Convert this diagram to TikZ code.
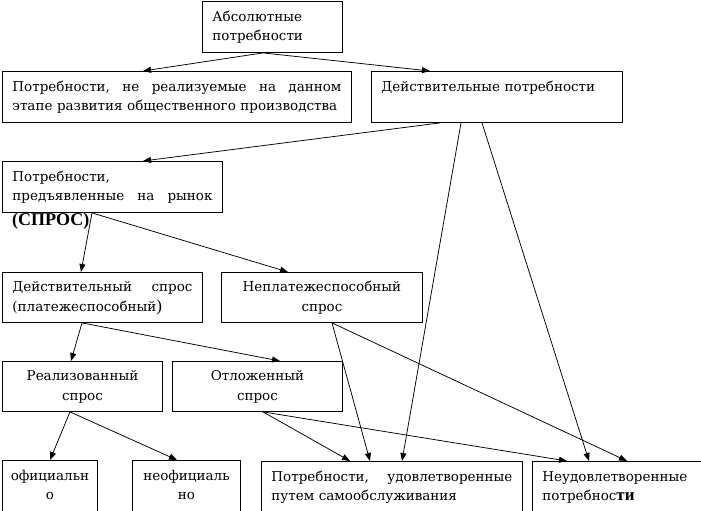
\documentclass[tikz,border=0pt]{standalone}
\usepackage{fontspec}
\setmainfont{DejaVu Serif}
\newfontfamily\tnr{Liberation Serif}
\usetikzlibrary{arrows.meta}
\tikzset{
  box/.style={draw, line width=0.9pt, anchor=north west, inner xsep=10pt, inner ysep=0pt,
    font=\fontsize{13.5}{19.5}\selectfont, text height=11pt, text depth=22pt},
  lowbox/.style={box, minimum height=70pt, text depth=41pt},
  conn/.style={line width=0.75pt, -{Triangle[length=8pt,width=6pt]}}
}
\begin{document}
\begin{tikzpicture}[x=1pt,y=-1pt]
\useasboundingbox (0,0) rectangle (701,511);
\begin{scope}
\clip (0,0) rectangle (701,511);
\node[box, minimum width=140pt, minimum height=51pt, text width=120pt, align=left] (b1) at (202,1) {Абсолютные\\потребности};
\node[box, minimum width=349pt, minimum height=51pt, text width=329pt, align=left] (b2) at (2,71) {Потребности,\hfill не\hfill реализуемые\hfill на\hfill данном\\этапе развития общественного производства};
\node[box, minimum width=251pt, minimum height=51pt, text width=231pt, align=left] (b3) at (371,71) {Действительные потребности\\\mbox{}};
\node[box, minimum width=220pt, minimum height=51pt, text width=200pt, align=left] (b4) at (2,161) {Потребности,\\предъявленные\hfill на\hfill рынок};
\node[anchor=north west, inner sep=0pt, font=\tnr\bfseries\fontsize{18}{20}\selectfont] (spros) at (12,213) {(СПРОС)};
\node[box, minimum width=200pt, minimum height=50pt, text width=180pt, align=left] (b5) at (2,272) {Действительный\hfill спрос\\(платежеспособный{\tnr\fontsize{17}{20}\selectfont)}};
\node[box, minimum width=201pt, minimum height=50pt, text width=181pt, align=center] (b6) at (221,272) {Неплатежеспособный\\спрос};
\node[box, minimum width=160pt, minimum height=50pt, text width=140pt, align=center] (b7) at (2,361) {Реализованный\\спрос};
\node[box, minimum width=170pt, minimum height=50pt, text width=150pt, align=center] (b8) at (172,361) {Отложенный\\спрос};
\node[lowbox, minimum width=95pt, text width=85pt, inner xsep=5pt, align=center] (b9) at (2,460) {официальн\\о};
\node[lowbox, minimum width=108pt, text width=98pt, inner xsep=5pt, align=center] (b10) at (132,460) {неофициаль\\но};
\node[lowbox, minimum width=261pt, text width=241pt, align=left] (b11) at (261,461) {Потребности,\hfill удовлетворенные\\путем самообслуживания};
\node[lowbox, minimum width=190pt, text width=170pt, align=left] (b12) at (532,461) {Неудовлетворенные\\потребнос{\tnr\bfseries\fontsize{17}{20}\selectfont ти}};
\end{scope}
\draw[conn] ([xshift=61pt]b1.south west) -- ([xshift=141pt]b2.north west);
\draw[conn] ([xshift=61pt]b1.south west) -- ([xshift=59pt]b3.north west);
\draw[conn] ([xshift=69pt]b3.south west) -- ([xshift=141pt]b4.north west);
\draw[conn] ([xshift=90pt]b3.south west) -- ([xshift=141pt]b11.north west);
\draw[conn] ([xshift=111pt]b3.south west) -- ([xshift=57pt]b12.north west);
\draw[conn] ([xshift=90pt]b4.south west) -- ([xshift=79pt]b5.north west);
\draw[conn] ([xshift=90pt]b4.south west) -- ([xshift=67pt]b6.north west);
\draw[conn] ([xshift=80pt]b5.south west) -- ([xshift=69pt]b7.north west);
\draw[conn] ([xshift=80pt]b5.south west) -- ([xshift=108pt]b8.north west);
\draw[conn] ([xshift=111pt]b6.south west) -- ([xshift=109pt]b11.north west);
\draw[conn] ([xshift=111pt]b6.south west) -- ([xshift=95pt]b12.north west);
\draw[conn] ([xshift=68pt]b7.south west) -- ([xshift=48pt]b9.north west);
\draw[conn] ([xshift=68pt]b7.south west) -- ([xshift=45pt]b10.north west);
\draw[conn] ([xshift=91pt]b8.south west) -- ([xshift=89pt]b11.north west);
\draw[conn] ([xshift=91pt]b8.south west) -- ([xshift=35pt]b12.north west);
\end{tikzpicture}
\end{document}
